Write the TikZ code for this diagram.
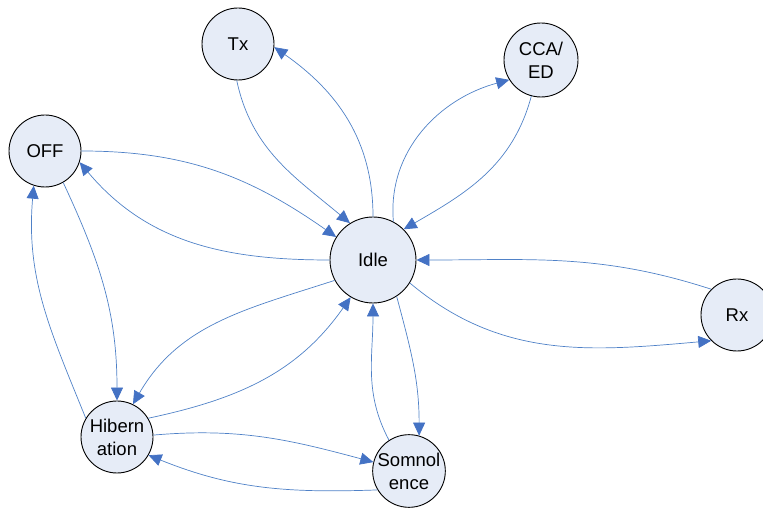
\documentclass[tikz,border=0pt]{standalone}
\usepackage{fontspec}
\setmainfont{Liberation Sans}
\usetikzlibrary{arrows.meta}
\definecolor{edgeblue}{RGB}{79,129,199}
\definecolor{tipblue}{RGB}{68,114,196}
\definecolor{statefill}{RGB}{230,236,247}
\begin{document}
\begin{tikzpicture}[x=1pt,y=1pt,
  state/.style={circle,draw=black,line width=0.9pt,fill=statefill,minimum size=72pt,inner sep=0pt,align=center,font=\fontsize{18.5}{23}\selectfont},
  bigstate/.style={state,minimum size=86pt},
  conn/.style={draw=edgeblue,line width=0.7pt,-{Triangle[length=13pt,width=12pt,color=tipblue]}}]
\useasboundingbox (0,0) rectangle (763,508);
\node[state] (tx) at (238,464) {Tx};
\node[state,minimum size=74pt] (cca) at (541,448) {CCA/\\ED};
\node[state] (off) at (45,357) {OFF};
\node[bigstate] (idle) at (373,248) {Idle};
\node[state] (rx) at (737,193) {Rx};
\node[state] (hib) at (117,71) {Hibern\\ation};
\node[state] (som) at (409,37) {Somnol\\ence};
% Tx <-> Idle
\draw[conn] (tx.-92) to[out=-78,in=140] (idle.122);
\draw[conn] (idle.90) to[out=90,in=-35] (tx.-5);
% Idle <-> CCA
\draw[conn] (idle.62) to[out=95,in=195] (cca.212);
\draw[conn] (cca.255) to[out=-105,in=30] (idle.45);
% OFF <-> Idle
\draw[conn] (off.0) to[out=0,in=145] (idle.148);
\draw[conn] (idle.180) to[out=180,in=-50] (off.-18);
% Rx <-> Idle
\draw[conn] (rx.135) to[out=162,in=0] (idle.0);
\draw[conn] (idle.-32) to[out=-40,in=185] (rx.225);
% OFF <-> Hib
\draw[conn] (off.-60) to[out=-65,in=90] (hib.90);
\draw[conn] (hib.149) to[out=112,in=-95] (off.252);
% Idle <-> Hib
\draw[conn] (idle.208) to[out=198,in=60] (hib.64);
\draw[conn] (hib.31) to[out=12,in=235] (idle.239);
% Idle <-> Som
\draw[conn] (idle.-57) to[out=-75,in=90] (som.74);
\draw[conn] (som.123) to[out=118,in=-90] (idle.-90);
% Hib <-> Som
\draw[conn] (hib.3) to[out=5,in=165] (som.166);
\draw[conn] (som.211) to[out=182,in=-22] (hib.-30);
\end{tikzpicture}
\end{document}
